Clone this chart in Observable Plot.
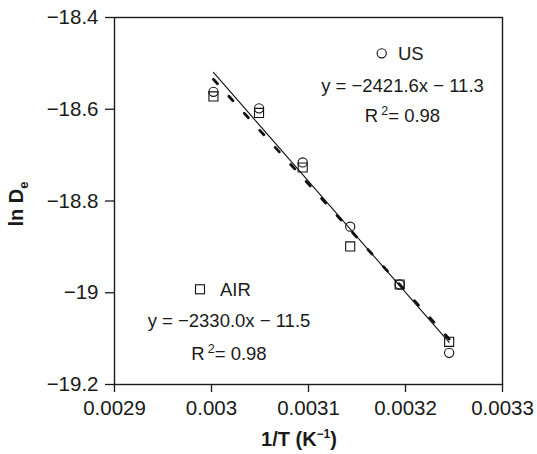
<!DOCTYPE html>
<html><head><meta charset="utf-8">
<script src="https://cdn.jsdelivr.net/npm/d3@7"></script>
<script src="https://cdn.jsdelivr.net/npm/@observablehq/plot@0.6"></script>
<style>html,body{margin:0;padding:0;background:#fff;} svg{display:block;}</style>
</head><body><div id="chart"></div>
<script>
// ---- data ----
const invT = [0.003002, 0.003049, 0.003094, 0.003143, 0.003194, 0.003245];
const lnDeUS = [-18.562, -18.598, -18.716, -18.856, -18.982, -19.131];
const lnDeAIR = [-18.572, -18.608, -18.727, -18.899, -18.982, -19.107];
const seriesNames = ["US", "AIR"];
const fitSlopes = [-2421.6, -2330.0];
const fitIntercepts = [-11.25, -11.54];
const fitLabels = ["y = \u22122421.6x \u2212 11.3", "y = \u22122330.0x \u2212 11.5"];
const r2Values = ["0.98", "0.98"];
const xTicks = [0.0029, 0.003, 0.0031, 0.0032, 0.0033];
const xTickLabels = ["0.0029", "0.003", "0.0031", "0.0032", "0.0033"];
const yTicks = [-19.2, -19, -18.8, -18.6, -18.4];
const yTickLabels = ["\u221219.2", "\u221219", "\u221218.8", "\u221218.6", "\u221218.4"];

const usPts = invT.map((x, i) => ({x, y: lnDeUS[i]}));
const airPts = invT.map((x, i) => ({x, y: lnDeAIR[i]}));
const [xmin, xmax] = d3.extent(invT);
const fitLine = k => [xmin, xmax].map(x => ({x, y: fitSlopes[k] * x + fitIntercepts[k]}));

const lookup = (ticks, labels) => d => {
  let best = 0;
  ticks.forEach((t, i) => { if (Math.abs(t - d) < Math.abs(ticks[best] - d)) best = i; });
  return labels[best];
};

const FONT = "'Liberation Sans', Arial, Helvetica, sans-serif";
const INK = "#1a1a1a";

const plot = Plot.plot({
  width: 537, height: 454,
  marginLeft: 114, marginRight: 35, marginTop: 17, marginBottom: 70,
  style: {fontFamily: FONT, fontSize: "20.5px", color: INK, background: "#fff"},
  x: {domain: [0.0029, 0.0033]},
  y: {domain: [-19.2, -18.4]},
  marks: [
    Plot.axisX({ticks: xTicks, tickFormat: lookup(xTicks, xTickLabels), tickSize: 8, tickPadding: 8, label: null, stroke: INK, strokeWidth: 1.3}),
    Plot.axisY({ticks: yTicks, tickFormat: lookup(yTicks, yTickLabels), tickSize: 9, tickPadding: 7, label: null, stroke: INK, strokeWidth: 1.3}),
    Plot.frame({stroke: INK, strokeWidth: 1.4}),
    Plot.line(fitLine(0), {x: "x", y: "y", stroke: "#111", strokeWidth: 1.1}),
    Plot.line(fitLine(1), {x: "x", y: "y", stroke: "#111", strokeWidth: 2.8, strokeDasharray: "6,17"}),
    Plot.dot(airPts, {x: "x", y: "y", symbol: "square", r: 5.1, stroke: "#111", fill: "none", strokeWidth: 1.1}),
    Plot.dot(usPts, {x: "x", y: "y", symbol: "circle", r: 4.6, stroke: "#111", fill: "none", strokeWidth: 1.1})
  ]
});
document.getElementById("chart").appendChild(plot);

const svg = d3.select(plot);
const g = svg.append("g").attr("font-family", FONT).attr("fill", INK);

// axis titles
const xl = g.append("text").attr("x", 299).attr("y", 446).attr("text-anchor", "middle")
  .attr("font-size", 20).attr("font-weight", "bold");
xl.append("tspan").text("1/T (K");
xl.append("tspan").attr("font-size", 12).attr("dy", -8).text("\u22121");
xl.append("tspan").attr("dy", 8).text(")");

const yl = g.append("text").attr("transform", "translate(23,204) rotate(-90)").attr("text-anchor", "middle")
  .attr("font-size", 20).attr("font-weight", "bold");
yl.append("tspan").text("ln D");
yl.append("tspan").attr("font-size", 13).attr("dy", 5).text("e");

// legend / annotation blocks
function block(k, sym, sx, sy, nameX, eqX, eqY, r2Y) {
  if (sym === "circle") {
    g.append("circle").attr("cx", sx).attr("cy", sy).attr("r", 4.6)
      .attr("fill", "none").attr("stroke", "#111").attr("stroke-width", 1.1);
  } else {
    g.append("rect").attr("x", sx - 4.5).attr("y", sy - 4.5).attr("width", 9).attr("height", 9)
      .attr("fill", "none").attr("stroke", "#111").attr("stroke-width", 1.1);
  }
  g.append("text").attr("x", nameX).attr("y", sy).attr("dy", "0.36em").attr("text-anchor", "start")
    .attr("font-size", 18.5).text(seriesNames[k]);
  g.append("text").attr("x", eqX).attr("y", eqY).attr("dy", "0.36em").attr("text-anchor", "middle")
    .attr("font-size", 18.5).text(fitLabels[k]);
  const t = g.append("text").attr("x", eqX).attr("y", r2Y).attr("dy", "0.36em").attr("text-anchor", "middle")
    .attr("font-size", 18.5);
  t.append("tspan").text("R");
  t.append("tspan").attr("dx", 3).attr("dy", -7).attr("font-size", 12.5).text("2");
  t.append("tspan").attr("dy", 7).text("= " + r2Values[k]);
}
block(0, "circle", 381.7, 53.3, 398, 402.5, 85, 115);
block(1, "square", 200, 289.3, 220, 229, 320, 353);
</script>
</body></html>
